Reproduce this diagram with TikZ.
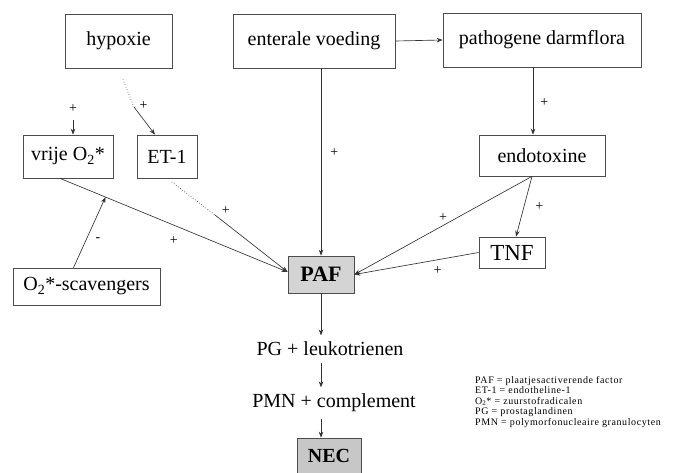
\documentclass[tikz,border=0pt]{standalone}
\usepackage{fontspec}
\setmainfont{Liberation Serif}
\newfontfamily\boxfont{Liberation Serif}
\newfontfamily\legendfont[LetterSpace=6]{Liberation Serif}
\usetikzlibrary{positioning,arrows.meta}

\begin{document}
\begin{tikzpicture}[x=1pt, y=-1pt, >={Stealth[length=6pt,width=4.5pt]},
  main/.style = {draw=black!70, line width=0.7pt, rectangle, inner sep=2pt, font=\boxfont\fontsize{20}{22}\selectfont},
  shaded/.style = {main, fill=black!17, font=\boxfont\fontsize{22}{24}\selectfont\bfseries},
  plain/.style = {font=\boxfont\fontsize{20}{22}\selectfont},
  sign/.style = {font=\boxfont\fontsize{14}{14}\selectfont, inner sep=1pt},
  link/.style = {draw=black!80, line width=0.65pt}]
\useasboundingbox (0,0) rectangle (677,473);
\node[main, minimum width=107pt, minimum height=54pt] (hyp) at (118.5,41) {hypoxie};
\node[main, minimum width=162pt, minimum height=54pt] (ent) at (314,41) {enterale voeding};
\node[main, minimum width=198pt, minimum height=54pt] (pat) at (542,40) {pathogene darmflora};
\node[main, minimum width=90pt, minimum height=43pt] (vrij) at (68,156.5) {vrije O\textsubscript{2}*};
\node[main, minimum width=60pt, minimum height=43pt] (et) at (167,156.5) {ET-1};
\node[main, minimum width=126pt, minimum height=41pt] (endo) at (542,155.5) {endotoxine};
\node[main, minimum width=147pt, minimum height=37pt] (scav) at (86.5,286.5) {O\textsubscript{2}*-scavengers};
\node[shaded, minimum width=66pt, minimum height=37pt] (paf) at (321,274.5) {PAF};
\node[main, minimum width=66pt, minimum height=31pt, font=\boxfont\fontsize{23}{24}\selectfont] (tnf) at (512,252.5) {TNF};
\node[plain] (pg) at (330,349) {PG + leukotrienen};
\node[plain] (pmn) at (334,403) {PMN + complement};
\node[shaded, minimum width=64pt, minimum height=35pt, fill=black!22, font=\boxfont\fontsize{20}{22}\selectfont\bfseries] (nec) at (329,455.5) {NEC};
\node[anchor=north west, align=left, inner sep=0pt, font=\legendfont\fontsize{10}{10.5}\selectfont] (legend) at (475,376)
  {PAF = plaatjesactiverende factor\\ ET-1 = endotheline-1\\ O\textsubscript{2}* = zuurstofradicalen\\ PG = prostaglandinen\\ PMN = polymorfonucleaire granulocyten};

\coordinate (h2) at (134,107);
\coordinate (v1) at (73,120);
\coordinate (e2) at (215,215);
\coordinate (eo) at ([xshift=-10pt]endo.south);
\coordinate (vs) at ([xshift=-8pt]vrij.south);
\coordinate (pin) at ([yshift=2.5pt]paf.west);

\draw[link, dotted, shorten <=12pt] (hyp.south) -- (h2) node[sign, pos=0.95, right=5pt] {+};
\draw[link, ->] (h2) -- ([xshift=-12pt]et.north);
\draw[link, ->] (v1) -- ([xshift=5pt]vrij.north) node[sign, at start, above=6pt] {+};
\draw[link, ->] (ent.east) -- (pat.west);
\draw[link, ->] (ent.south -| paf.north) -- (paf.north) node[sign, pos=0.45, right=8pt] {+};
\draw[link, ->] ([xshift=-9pt]pat.south) -- ([xshift=-9pt]endo.north) node[sign, pos=0.53, right=6pt] {+};
\draw[link, ->] (eo) -- ([xshift=4pt]tnf.north) node[sign, pos=0.5, right=10pt] {+};
\draw[link, ->] (eo) -- (paf.east) node[sign, pos=0.5, above=3pt] {+};
\draw[link, ->] (tnf.west) -- (paf.east) node[sign, pos=0.33, below=6pt] {+};
\draw[link, ->] (vs) -- (pin) node[sign, midway, below=10pt] {+} coordinate[pos=0.2] (hit);
\draw[link, dotted, shorten <=6pt] (et.south) -- (e2);
\draw[link, ->] (e2) -- (pin) node[sign, pos=0.15, above=8pt] {+};
\draw[link, ->] ([xshift=-13pt]scav.north) -- (hit) node[sign, pos=0.4, right=8pt] {-};
\draw[link, ->, shorten >=3pt] (paf.south) -- (paf.south |- pg.north);
\draw[link, ->, shorten <=3pt, shorten >=3pt] (pg.south -| paf.south) -- (pmn.north -| paf.south);
\draw[link, ->, shorten <=3pt] (pmn.south -| paf.south) -- (nec.north -| paf.south);
\end{tikzpicture}
\end{document}
